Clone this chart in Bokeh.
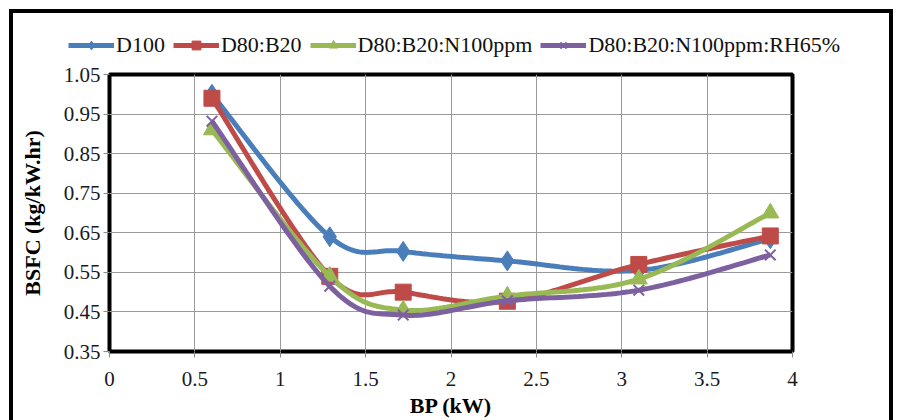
import numpy as np
from bokeh.plotting import figure
from bokeh.layouts import column
from bokeh.models import Legend, LegendItem, FixedTicker, Range1d
from bokeh.embed import file_html
from bokeh.resources import INLINE

# ---- data ----
bp = [0.6, 1.29, 1.72, 2.33, 3.1, 3.87]
d100 = [1.00, 0.64, 0.603, 0.579, 0.555, 0.635]
d80_b20 = [0.99, 0.54, 0.50, 0.477, 0.57, 0.642]
d80_b20_n100 = [0.91, 0.54, 0.455, 0.49, 0.533, 0.70]
d80_b20_n100_rh65 = [0.932, 0.515, 0.442, 0.478, 0.505, 0.594]

series_names = ["D100", "D80:B20", "D80:B20:N100ppm", "D80:B20:N100ppm:RH65%"]
series_colors = ["#4A7EBB", "#BE4B48", "#98B954", "#7D60A0"]
series_markers = ["diamond", "square", "triangle", "x"]
series_sizes = [20, 16, 17, 15]

x_ticks = [0, 0.5, 1, 1.5, 2, 2.5, 3, 3.5, 4]
x_tick_labels = ["0", "0.5", "1", "1.5", "2", "2.5", "3", "3.5", "4"]
y_ticks = [0.35, 0.45, 0.55, 0.65, 0.75, 0.85, 0.95, 1.05]
y_tick_labels = ["0.35", "0.45", "0.55", "0.65", "0.75", "0.85", "0.95", "1.05"]


def smooth(xs, ys, n=30):
    """Excel-like smoothed line (Catmull-Rom Bezier through the points)."""
    P = np.column_stack([xs, ys]).astype(float)
    ext = np.vstack([P[0], P, P[-1]])
    out = []
    t = np.linspace(0, 1, n)[:, None]
    for i in range(len(P) - 1):
        p0, p1, p2, p3 = ext[i], ext[i + 1], ext[i + 2], ext[i + 3]
        c1 = p1 + (p2 - p0) / 6.0
        c2 = p2 - (p3 - p1) / 6.0
        seg = ((1 - t) ** 3) * p1 + 3 * ((1 - t) ** 2) * t * c1 + 3 * (1 - t) * t * t * c2 + t ** 3 * p2
        out.append(seg if i == 0 else seg[1:])
    a = np.vstack(out)
    return a[:, 0], a[:, 1]


SERIF = "Liberation Serif"
W = 897
LEG_H = 60

# ---- legend strip (a figure of its own, so the legend is not clipped) ----
lg = figure(width=W, height=LEG_H, output_backend="svg", toolbar_location=None,
            x_range=Range1d(100, 101), y_range=Range1d(100, 101),
            x_axis_type=None, y_axis_type=None,
            min_border_left=0, min_border_right=0, min_border_top=0, min_border_bottom=0)
lg.outline_line_color = None
lg.background_fill_color = None
lg.border_fill_color = None
lg.frame_align = False

# ---- main chart ----
p = figure(width=W, height=420 - LEG_H, output_backend="svg", toolbar_location=None,
           x_range=Range1d(0, 4), y_range=Range1d(0.35, 1.05),
           min_border_left=109, min_border_right=105,
           min_border_top=74 - LEG_H, min_border_bottom=68)
p.frame_align = False
p.outline_line_color = "black"
p.outline_line_width = 4
p.background_fill_color = "white"
p.border_fill_color = None

for ax in (p.xaxis[0], p.yaxis[0]):
    ax.axis_line_color = None
    ax.major_tick_line_color = "#8c8c8c"
    ax.major_tick_out = 6
    ax.major_tick_in = 0
    ax.minor_tick_line_color = None
    ax.major_label_text_font = SERIF
    ax.major_label_text_font_size = "21px"
    ax.major_label_text_color = "#1a1a1a"
    ax.axis_label_text_font = SERIF
    ax.axis_label_text_font_size = "22px"
    ax.axis_label_text_font_style = "bold"
    ax.axis_label_text_color = "black"

p.xaxis.ticker = FixedTicker(ticks=x_ticks)
p.yaxis.ticker = FixedTicker(ticks=y_ticks)
p.xaxis.major_label_overrides = {t: s for t, s in zip(x_ticks, x_tick_labels)}
p.yaxis.major_label_overrides = {t: s for t, s in zip(y_ticks, y_tick_labels)}
p.xaxis.axis_label = "BP (kW)"
p.yaxis.axis_label = "BSFC (kg/kW.hr)"
p.xaxis.major_label_standoff = 14
p.yaxis.major_label_standoff = 3
p.xaxis.axis_label_standoff = 4
p.yaxis.axis_label_standoff = 16

p.grid.grid_line_color = "#9a9a9a"
p.grid.grid_line_width = 1

items = []
for name, ys, col, mk, sz in zip(series_names,
                                 [d100, d80_b20, d80_b20_n100, d80_b20_n100_rh65],
                                 series_colors, series_markers, series_sizes):
    sx, sy = smooth(bp, ys)
    p.line(sx, sy, line_color=col, line_width=5)
    if mk == "x":
        p.scatter(bp, ys, marker=mk, size=sz, line_color=col, line_width=2)
    else:
        p.scatter(bp, ys, marker=mk, size=sz, fill_color=col, line_color=col)
    # same styling in the legend strip (its ranges keep these out of view)
    l1 = lg.line(bp, ys, line_color=col, line_width=5)
    if mk == "x":
        l2 = lg.scatter(bp, ys, marker=mk, size=sz, line_color=col, line_width=2)
    else:
        l2 = lg.scatter(bp, ys, marker=mk, size=sz, fill_color=col, line_color=col)
    items.append(LegendItem(label=name, renderers=[l1, l2]))

legend = Legend(items=items, orientation="horizontal", location=(68, 2),
                label_text_font=SERIF, label_text_font_size="22px", label_text_color="#111111",
                glyph_width=46, glyph_height=22, label_standoff=2, spacing=8,
                padding=0, margin=0, border_line_color=None, background_fill_alpha=0)
lg.add_layout(legend, "center")

page = column(lg, p, spacing=0)
page.styles = {"box-shadow": ("inset 9px 9px 0 0 white, inset -4px 0 0 0 white, "
                              "inset 13px 13px 0 0 black, inset -8px 0 0 0 black")}

open("out.html", "w").write(file_html(page, INLINE))
